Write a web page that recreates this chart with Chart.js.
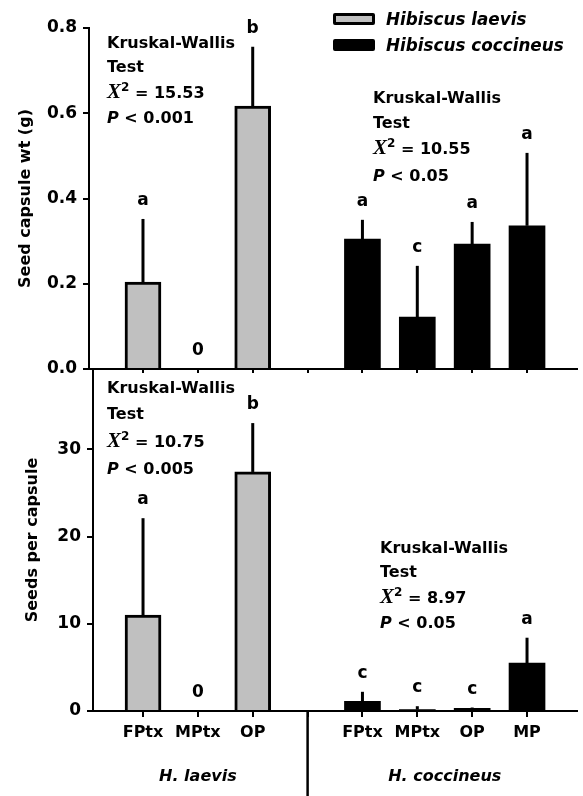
<!DOCTYPE html>
<html>
<head>
<meta charset="utf-8">
<script src="https://cdn.jsdelivr.net/npm/chart.js@4.4.1/dist/chart.umd.min.js"></script>
<style>
    html, body { margin: 0; padding: 0; background: #fff; }
    #wrap { position: relative; width: 583px; height: 796px; font-family: "DejaVu Sans", sans-serif; font-weight: bold; font-size: 16px; color: #000; }
    canvas { position: absolute; left: 0; }
    .kw { position: absolute; white-space: nowrap; }
    .kw .chi { font-family: "Liberation Serif", serif; font-style: italic; font-size: 21px; }
    .kw .sup { position: relative; top: -7px; font-size: 12px; }
    .lgbox { position: absolute; left: 333px; width: 42px; height: 12px; box-sizing: border-box; border: 3px solid #000; border-radius: 2px; }
    .lgtext { position: absolute; left: 386px; font-style: italic; font-size: 16.8px; line-height: 16px; white-space: nowrap; }
</style>
</head>
<body>
<div id="wrap">
    <canvas id="wtChart" width="583" height="380" style="top:0"></canvas>
    <canvas id="seedChart" width="583" height="427" style="top:369px"></canvas>

    <div class="lgbox" style="top:13px;background:#c0c0c0"></div>
    <div class="lgtext" style="top:11px">Hibiscus laevis</div>
    <div class="lgbox" style="top:39px;background:#000"></div>
    <div class="lgtext" style="top:37px">Hibiscus coccineus</div>

    <div class="kw" style="left:107px;top:31px;line-height:24px">Kruskal-Wallis<br>Test<br><span class="chi">X</span><span class="sup">2</span> = 15.53<br><i>P</i> &lt; 0.001</div>
    <div class="kw" style="left:373px;top:85px;line-height:25px">Kruskal-Wallis<br>Test<br><span class="chi">X</span><span class="sup">2</span> = 10.55<br><i>P</i> &lt; 0.05</div>
    <div class="kw" style="left:107px;top:375px;line-height:26px">Kruskal-Wallis<br>Test<br><span class="chi">X</span><span class="sup">2</span> = 10.75<br><i>P</i> &lt; 0.005</div>
    <div class="kw" style="left:380px;top:536px;line-height:24px">Kruskal-Wallis<br>Test<br><span class="chi">X</span><span class="sup">2</span> = 8.97<br><i>P</i> &lt; 0.05</div>
</div>

<script>
// treatments, slot 4 is the empty gap between the two species
const laevisSlots = [1, 2, 3];
const coccineusSlots = [5, 6, 7, 8];
const laevisTreatments = ['FPtx', 'MPtx', 'OP'];
const coccineusTreatments = ['FPtx', 'MPtx', 'OP', 'MP'];
const speciesNames = ['Hibiscus laevis', 'Hibiscus coccineus'];
const groupLabels = ['H. laevis', 'H. coccineus'];

// seed capsule weight (g), mean and error
const wtLaevis = [0.204, 0, 0.617];
const wtLaevisErr = [0.148, 0, 0.139];
const wtLaevisLetters = ['a', '0', 'b'];
const wtCoccineus = [0.305, 0.122, 0.293, 0.336];
const wtCoccineusErr = [0.045, 0.12, 0.052, 0.171];
const wtCoccineusLetters = ['a', 'c', 'a', 'a'];
const wtTicks = [0, 0.2, 0.4, 0.6, 0.8];

// seeds per capsule, mean and error
const seedLaevis = [11.0, 0, 27.4];
const seedLaevisErr = [11.1, 0, 5.6];
const seedLaevisLetters = ['a', '0', 'b'];
const seedCoccineus = [1.1, 0.15, 0.3, 5.5];
const seedCoccineusErr = [1.1, 0.4, 0.1, 2.9];
const seedCoccineusLetters = ['c', 'c', 'c', 'a'];
const seedTicks = [0, 10, 20, 30];

const allSlots = [1, 2, 3, 4, 5, 6, 7, 8];
const FONT = { family: 'DejaVu Sans', size: 16, weight: 'bold' };
const YFONT = { family: 'DejaVu Sans', size: 17, weight: 'bold' };

function slotLabel(v) {
    let i = laevisSlots.indexOf(v);
    if (i >= 0) return laevisTreatments[i];
    i = coccineusSlots.indexOf(v);
    if (i >= 0) return coccineusTreatments[i];
    return '';
}

function toPoints(slots, values) {
    return slots.map((s, i) => ({ x: s, y: values[i] }));
}

// keep the plot area where the layout padding puts it
function noPadding(s) {
    s.paddingTop = 0;
    s.paddingBottom = 0;
    s.paddingLeft = 0;
    s.paddingRight = 0;
}

// error bars (upper only) and significance letters
const errorBarPlugin = {
    id: 'errorBars',
    afterDatasetsDraw(chart) {
        const { ctx } = chart;
        const x = chart.scales.x;
        const y = chart.scales.y;
        ctx.save();
        ctx.strokeStyle = '#000';
        ctx.fillStyle = '#000';
        ctx.lineWidth = 3;
        ctx.font = 'bold 17px "DejaVu Sans"';
        ctx.textAlign = 'center';
        ctx.textBaseline = 'alphabetic';
        chart.data.datasets.forEach(ds => {
            ds.data.forEach((pt, i) => {
                const px = x.getPixelForValue(pt.x);
                const yMean = y.getPixelForValue(pt.y);
                const yTop = y.getPixelForValue(pt.y + ds.errors[i]);
                if (ds.errors[i] > 0) {
                    ctx.beginPath();
                    ctx.moveTo(px, yMean);
                    ctx.lineTo(px, yTop);
                    ctx.stroke();
                }
                ctx.fillText(ds.letters[i], px, yTop - 14);
            });
        });
        ctx.restore();
    }
};

// species names under the bottom axis and the divider between them
const groupPlugin = {
    id: 'groups',
    afterDraw(chart) {
        if (!chart.options.plugins.groups.show) return;
        const { ctx } = chart;
        const x = chart.scales.x;
        const base = chart.chartArea.bottom;
        ctx.save();
        ctx.fillStyle = '#000';
        ctx.strokeStyle = '#000';
        ctx.lineWidth = 2.5;
        ctx.beginPath();
        ctx.moveTo(x.getPixelForValue(4), base);
        ctx.lineTo(x.getPixelForValue(4), chart.height);
        ctx.stroke();
        ctx.font = 'italic bold 16px "DejaVu Sans"';
        ctx.textAlign = 'center';
        ctx.textBaseline = 'middle';
        ctx.fillText(groupLabels[0], x.getPixelForValue(2), base + 66);
        ctx.fillText(groupLabels[1], x.getPixelForValue(6.5), base + 66);
        ctx.restore();
    }
};

function makeChart(canvasId, cfg) {
    const ctx = document.getElementById(canvasId).getContext('2d');
    return new Chart(ctx, {
        type: 'bar',
        data: {
            datasets: [{
                label: speciesNames[0],
                data: toPoints(laevisSlots, cfg.laevis),
                errors: cfg.laevisErr,
                letters: cfg.laevisLetters,
                backgroundColor: '#c0c0c0',
                borderColor: '#000',
                borderWidth: 3,
                barThickness: 36,
                grouped: false
            }, {
                label: speciesNames[1],
                data: toPoints(coccineusSlots, cfg.coccineus),
                errors: cfg.coccineusErr,
                letters: cfg.coccineusLetters,
                backgroundColor: '#000',
                borderColor: '#000',
                borderWidth: 0,
                barThickness: 36,
                grouped: false
            }]
        },
        options: {
            responsive: false,
            animation: false,
            layout: { autoPadding: false, padding: { top: cfg.padTop, right: 6, left: 0, bottom: 0 } },
            plugins: {
                legend: { display: false },
                tooltip: { enabled: false },
                groups: { show: cfg.showGroups }
            },
            scales: {
                x: {
                    type: 'linear',
                    min: cfg.xMin,
                    max: 8.911,
                    offset: false,
                    afterBuildTicks: s => { s.ticks = allSlots.map(v => ({ value: v })); },
                    afterFit: s => { s.height = cfg.xHeight; noPadding(s); },
                    ticks: {
                        display: cfg.showGroups,
                        font: FONT,
                        color: '#000',
                        padding: 6,
                        maxRotation: 0,
                        autoSkip: false,
                        callback: v => slotLabel(v)
                    },
                    grid: { offset: false, drawOnChartArea: false, color: '#000', lineWidth: 2, tickLength: cfg.xTick },
                    border: { color: '#000', width: 2 }
                },
                y: {
                    min: 0,
                    max: cfg.yMax,
                    afterBuildTicks: s => { s.ticks = cfg.yTicks.map(v => ({ value: v })); },
                    afterFit: s => { s.width = cfg.yWidth; noPadding(s); },
                    ticks: {
                        font: YFONT,
                        color: '#000',
                        padding: 6,
                        callback: v => cfg.fmt(v)
                    },
                    grid: { drawOnChartArea: false, color: '#000', lineWidth: 2, tickLength: 6 },
                    border: { color: '#000', width: 2 },
                    title: {
                        display: true,
                        text: cfg.yTitle,
                        font: FONT,
                        color: '#000',
                        padding: { top: cfg.titlePad, bottom: 0 }
                    }
                }
            }
        },
        plugins: [errorBarPlugin, groupPlugin]
    });
}

makeChart('wtChart', {
    laevis: wtLaevis, laevisErr: wtLaevisErr, laevisLetters: wtLaevisLetters,
    coccineus: wtCoccineus, coccineusErr: wtCoccineusErr, coccineusLetters: wtCoccineusLetters,
    yMax: 0.8, yTicks: wtTicks, fmt: v => v.toFixed(1),
    yTitle: 'Seed capsule wt (g)', titlePad: 16,
    padTop: 28, xHeight: 11, xTick: 4, xMin: 0.016, yWidth: 89,
    showGroups: false
});

makeChart('seedChart', {
    laevis: seedLaevis, laevisErr: seedLaevisErr, laevisLetters: seedLaevisLetters,
    coccineus: seedCoccineus, coccineusErr: seedCoccineusErr, coccineusLetters: seedCoccineusLetters,
    yMax: 39.2, yTicks: seedTicks, fmt: v => String(v),
    yTitle: 'Seeds per capsule', titlePad: 23,
    padTop: 0, xHeight: 85, xTick: 6, xMin: 0.088, yWidth: 93,
    showGroups: true
});
</script>
</body>
</html>
